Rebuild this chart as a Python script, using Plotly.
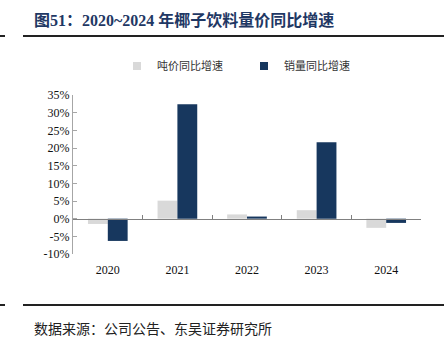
import plotly.graph_objects as go

years = ["2020", "2021", "2022", "2023", "2024"]
price_yoy = [-1.5, 5.1, 1.2, 2.4, -2.6]
volume_yoy = [-6.3, 32.4, 0.6, 21.6, -1.2]
series_names = ["吨价同比增速", "销量同比增速"]
series_colors = ["#d9d9d9", "#17375e"]
y_ticks = [-10, -5, 0, 5, 10, 15, 20, 25, 30, 35]
y_tick_text = [f"{v}%" for v in y_ticks]

W, H = 444, 352
ML, MR, MT, MB = 73, 23, 95, 98

fig = go.Figure()
for name, vals, col in zip(series_names, [price_yoy, volume_yoy], series_colors):
    fig.add_trace(go.Bar(x=years, y=vals, name=name, showlegend=False,
                         marker=dict(color=col, line=dict(width=0))))
# legend-only entries with small square markers
for name, col in zip(series_names, series_colors):
    fig.add_trace(go.Scatter(x=[None], y=[None], mode="markers", name=name,
                             marker=dict(symbol="square", size=8, color=col)))
# invisible trace to carry the zero-positioned axis with boundary ticks
fig.add_trace(go.Scatter(x=years, y=[0]*len(years), xaxis="x2", mode="markers",
                         marker=dict(opacity=0), showlegend=False, hoverinfo="skip"))

serif = "Liberation Serif, Times New Roman, serif"
cjk = "Noto Sans CJK SC"
zero_pos = (0 - (-10)) / (35 - (-10))

def px_x(px):
    return (px - ML) / (W - ML - MR)

def px_y(py):
    return 1 - (py - MT) / (H - MT - MB)

fig.update_layout(
    width=W, height=H,
    margin=dict(l=ML, r=MR, t=MT, b=MB),
    paper_bgcolor="white", plot_bgcolor="white",
    barmode="group", bargap=0.43, bargroupgap=0,
    showlegend=True,
    legend=dict(orientation="h", x=px_x(117), xanchor="left", y=px_y(66), yanchor="middle",
                font=dict(family=cjk, size=11, color="#333333"),
                itemwidth=30, traceorder="normal", entrywidth=82,
                bgcolor="rgba(0,0,0,0)"),
    xaxis=dict(type="category", categoryarray=years, range=[-0.5, 4.5],
               showline=False, ticks="", showgrid=False, zeroline=False,
               tickfont=dict(family=serif, size=12, color="#111111"),
               ticklabelstandoff=7),
    xaxis2=dict(type="category", categoryarray=years, range=[-0.5, 4.5],
                overlaying="x", anchor="free", position=zero_pos,
                showline=True, linecolor="#808080", linewidth=1,
                ticks="inside", ticklen=4, tickcolor="#808080", tickson="boundaries",
                showticklabels=False, showgrid=False, zeroline=False),
    yaxis=dict(range=[-10, 35], tickvals=y_ticks, ticktext=y_tick_text,
               showline=True, linecolor="#a6a6a6", linewidth=1,
               ticks="inside", ticklen=4, tickcolor="#a6a6a6",
               showgrid=False, zeroline=False,
               tickfont=dict(family=serif, size=12, color="#111111")),
    font=dict(family=serif),
)

fig.add_annotation(xref="paper", yref="paper", x=px_x(32), y=px_y(20),
                   xanchor="left", yanchor="middle",
                   text="<b>图51：2020~2024 年椰子饮料量价同比增速</b>", showarrow=False,
                   font=dict(family="Liberation Serif, " + cjk, size=16, color="#1f3864"))
fig.add_annotation(xref="paper", yref="paper", x=px_x(32), y=px_y(328),
                   xanchor="left", yanchor="middle",
                   text="数据来源：公司公告、东吴证券研究所", showarrow=False,
                   font=dict(family=cjk, size=14, color="#222222"))

for yy in (36, 305):
    fig.add_shape(type="line", xref="paper", yref="paper",
                  x0=px_x(23), x1=px_x(444), y0=px_y(yy), y1=px_y(yy),
                  line=dict(color="#222222", width=2))
    fig.add_shape(type="line", xref="paper", yref="paper",
                  x0=px_x(0), x1=px_x(5), y0=px_y(yy), y1=px_y(yy),
                  line=dict(color="#222222", width=2))

fig.write_html("out.html")
